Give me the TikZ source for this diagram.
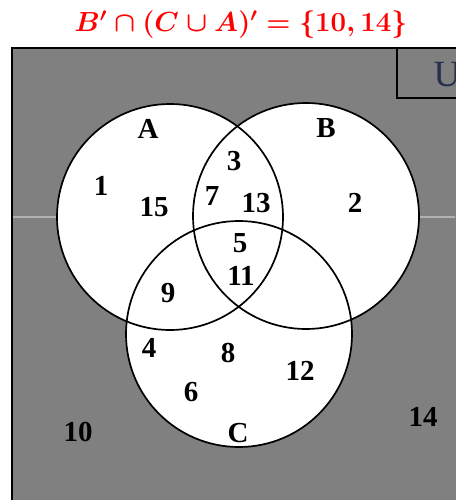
\documentclass[tikz,border=0pt]{standalone}
\usepackage{amsmath}
\usepackage{fontspec}
\setmainfont{Liberation Serif}
\usetikzlibrary{backgrounds}
\definecolor{bggray}{HTML}{808080}
\definecolor{ublue}{RGB}{38,48,78}

\begin{document}
\begin{tikzpicture}[x=1pt, y=-1pt,
    set/.style={circle, draw=black, line width=1.7pt, minimum size=226pt, inner sep=0pt},
    lbl/.style={font=\fontsize{29}{30}\selectfont\bfseries, inner sep=0pt}
]
    \useasboundingbox (0,0) rectangle (455,500);

    \node[red, font=\fontsize{25}{27}\selectfont\boldmath, scale=1.11, transform shape] (eq) at (241,25) {$\boldsymbol{B' \cap (C \cup A)' = \{10, 14\}}$};

    % the three sets
    \node[set] (A) at (170,217) {};
    \node[set] (B) at (306,216) {};
    \node[set] (C) at (239,334) {};

    \begin{scope}[on background layer]
        \draw[fill=bggray, line width=1.7pt] (12,48) rectangle (480,520);
        \draw[black!30, line width=1.4pt] (13,217) -- (455,217);
        \foreach \s in {A,B,C}
            \fill[white] (\s.center) circle[radius=113pt];
    \end{scope}

    \draw[line width=1.7pt] (397,48) rectangle (480,98);
    \node[ublue, font=\fontsize{37}{38}\selectfont, inner sep=0pt] (U) at (447,75) {U};

    \node[lbl] (lA) at (148,129) {A};
    \node[lbl] (lB) at (326,128) {B};
    \node[lbl] (lC) at (238,433) {C};

    \node[lbl] (n1) at (101,186) {1};
    \node[lbl] (n15) at (154,207) {15};
    \node[lbl] (n7) at (212,196) {7};
    \node[lbl] (n3) at (234,161) {3};
    \node[lbl] (n13) at (256,203) {13};
    \node[lbl] (n2) at (355,203) {2};
    \node[lbl] (n5) at (240,243) {5};
    \node[lbl] (n11) at (241,276) {11};
    \node[lbl] (n9) at (168,293) {9};
    \node[lbl] (n4) at (149,348) {4};
    \node[lbl] (n8) at (228,353) {8};
    \node[lbl] (n12) at (300,371) {12};
    \node[lbl] (n6) at (191,392) {6};
    \node[lbl] (n10) at (78,432) {10};
    \node[lbl] (n14) at (423,417) {14};
\end{tikzpicture}
\end{document}
